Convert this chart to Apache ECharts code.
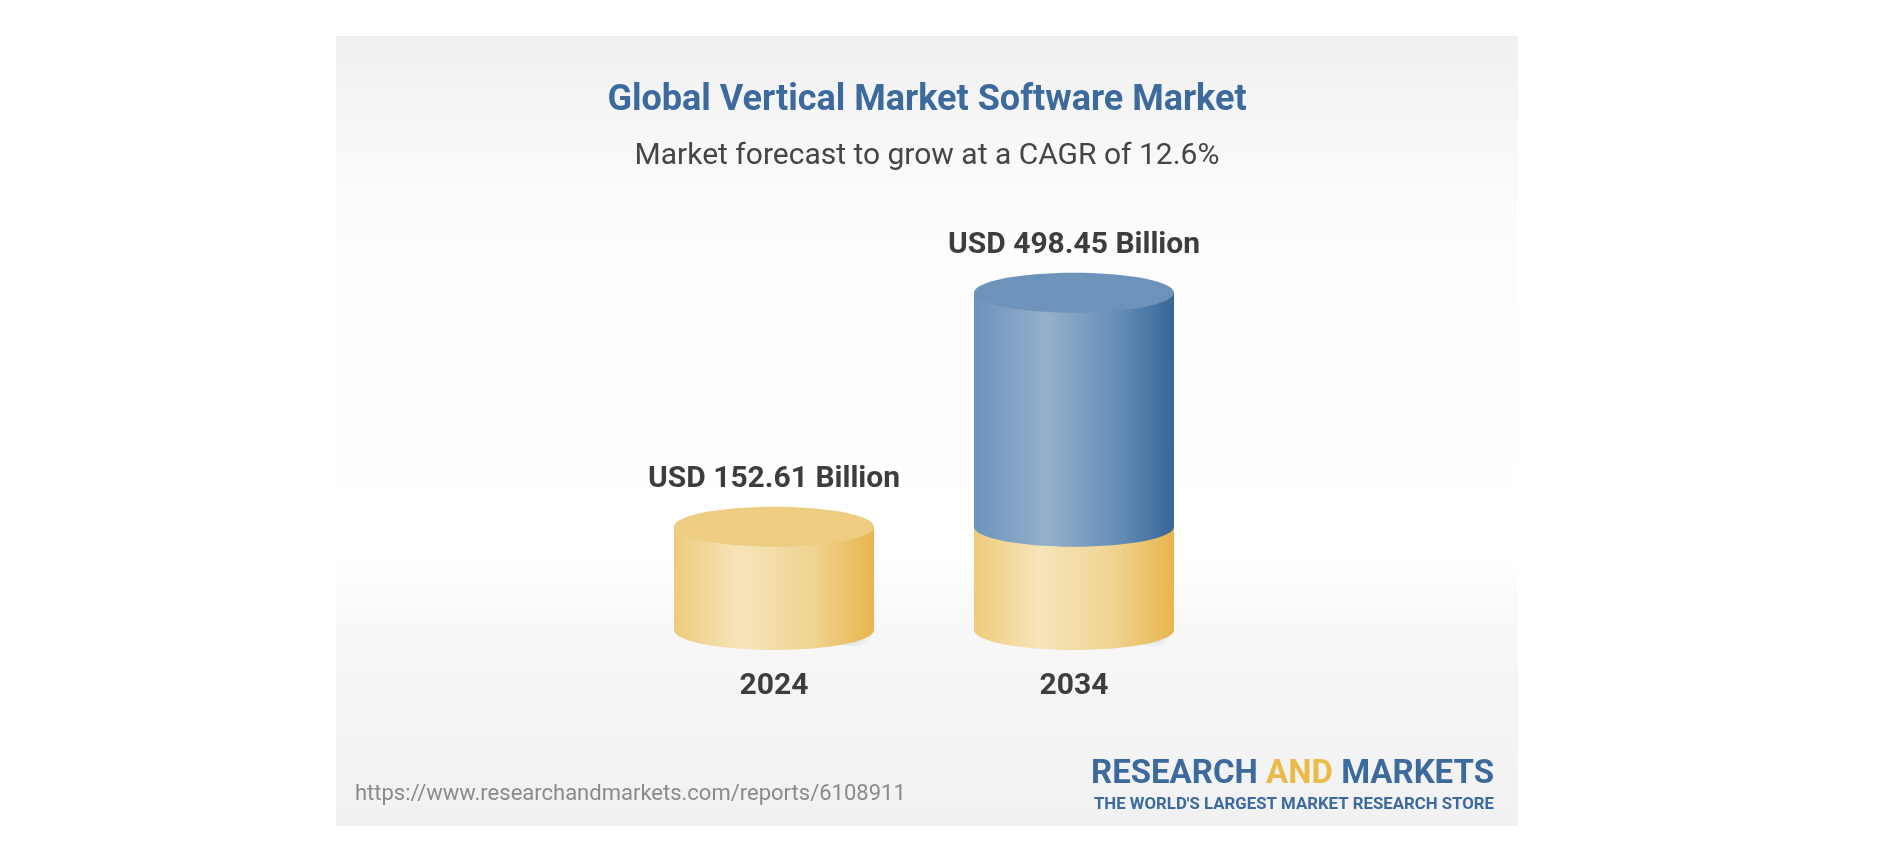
<!DOCTYPE html>
<html><head><meta charset="utf-8">
<script src="https://cdn.jsdelivr.net/npm/echarts/dist/echarts.min.js"></script>
<style>html,body{margin:0;padding:0;background:#fff}#c{width:1878px;height:856px}</style>
</head><body><div id="c"></div>
<script>
const categories = ['2024', '2034'];
const baseValues = [152.61, 152.61];
const totalValues = [152.61, 498.45];
const valueLabels = ['USD 152.61 Billion', 'USD 498.45 Billion'];
const titleText = 'Global Vertical Market Software Market';
const subtitleText = 'Market forecast to grow at a CAGR of 12.6%';
const sourceText = 'https://www.researchandmarkets.com/reports/6108911';

const FONT = 'Roboto, "Noto Sans", sans-serif';
const chart = echarts.init(document.getElementById('c'), null, {renderer: 'canvas'});

const seriesData = categories.map((c, i) => [i, baseValues[i], totalValues[i]]);

function yellowGrad() {
  return new echarts.graphic.LinearGradient(0, 0, 1, 0, [
    {offset: 0, color: '#eecb7a'},
    {offset: 0.33, color: '#f6e5bb'},
    {offset: 0.7, color: '#efd38f'},
    {offset: 1, color: '#e8b54e'}
  ]);
}
function blueGrad() {
  return new echarts.graphic.LinearGradient(0, 0, 1, 0, [
    {offset: 0, color: '#6b93bc'},
    {offset: 0.36, color: '#95b0ca'},
    {offset: 0.7, color: '#6890b9'},
    {offset: 1, color: '#386698'}
  ]);
}

function renderItem(params, api) {
  const idx = api.value(0);
  const base = api.value(1);
  const total = api.value(2);
  const p0 = api.coord([idx, 0]);
  const pb = api.coord([idx, base]);
  const pt = api.coord([idx, total]);
  const band = api.size([1, 0])[0];
  const w = band * 2 / 3;
  const rx = w / 2;
  const ry = w * 0.1;
  const cx = p0[0];
  const x = cx - rx;
  const children = [];
  // soft shadow on the floor
  children.push({
    type: 'ellipse',
    shape: {cx: cx + rx - 5, cy: p0[1] - 3, rx: 62, ry: 20},
    style: {fill: new echarts.graphic.RadialGradient(0.35, 0.5, 0.6, [
      {offset: 0, color: 'rgba(0,0,0,0.26)'},
      {offset: 0.5, color: 'rgba(0,0,0,0.10)'},
      {offset: 1, color: 'rgba(0,0,0,0)'}
    ])}
  });
  // yellow part
  children.push({type: 'ellipse', shape: {cx: cx, cy: p0[1], rx: rx, ry: ry}, style: {fill: yellowGrad()}});
  children.push({type: 'rect', shape: {x: x, y: pb[1], width: w, height: p0[1] - pb[1]}, style: {fill: yellowGrad()}});
  let topY;
  if (total > base) {
    children.push({type: 'ellipse', shape: {cx: cx, cy: pb[1], rx: rx, ry: ry}, style: {fill: blueGrad()}});
    children.push({type: 'rect', shape: {x: x, y: pt[1], width: w, height: pb[1] - pt[1]}, style: {fill: blueGrad()}});
    children.push({type: 'ellipse', shape: {cx: cx, cy: pt[1], rx: rx, ry: ry}, style: {fill: '#6d93ba'}});
    topY = pt[1];
  } else {
    children.push({type: 'ellipse', shape: {cx: cx, cy: pb[1], rx: rx, ry: ry}, style: {fill: '#eecd82'}});
    topY = pb[1];
  }
  children.push({
    type: 'text',
    style: {
      text: valueLabels[idx], x: cx, y: topY - ry - 27,
      textAlign: 'center', textVerticalAlign: 'middle',
      font: 'bold 30px ' + FONT, fill: '#3d3d3d'
    }
  });
  return {type: 'group', children: children};
}

const option = {
  backgroundColor: '#ffffff',
  animation: false,
  grid: {left: 624, width: 600, top: 224, height: 406},
  xAxis: {
    type: 'category', data: categories, boundaryGap: true,
    axisLine: {show: false}, axisTick: {show: false},
    axisLabel: {margin: 41, fontFamily: FONT, fontWeight: 'bold', fontSize: 30, color: '#3d3d3d'}
  },
  yAxis: {
    type: 'value', min: 0, max: 600, show: false,
    splitLine: {show: false}
  },
  graphic: [
    {
      type: 'rect', z: -10, silent: true,
      shape: {x: 336, y: 36, width: 1182, height: 790},
      style: {fill: new echarts.graphic.LinearGradient(0, 0, 0, 1, [
        {offset: 0, color: '#f0f0f0'},
        {offset: 0.22, color: '#fcfcfc'},
        {offset: 0.66, color: '#ffffff'},
        {offset: 0.76, color: '#f7f7f7'},
        {offset: 1, color: '#f1f1f1'}
      ])}
    },
    {
      type: 'text', z: 10,
      style: {text: titleText, x: 927, y: 101, textAlign: 'center', textVerticalAlign: 'middle',
        font: 'bold 36px ' + FONT, fill: '#3c6a9c'}
    },
    {
      type: 'text', z: 10,
      style: {text: subtitleText, x: 927, y: 156, textAlign: 'center', textVerticalAlign: 'middle',
        font: '30px ' + FONT, fill: '#454545'}
    },
    {
      type: 'text', z: 10,
      style: {text: sourceText, x: 355, y: 794, textAlign: 'left', textVerticalAlign: 'middle',
        font: '22px ' + FONT, fill: '#8a8a8a'}
    },
    {
      type: 'text', z: 10,
      style: {
        text: '{b|RESEARCH }{y|AND}{b| MARKETS}', x: 1494, y: 775,
        textAlign: 'right', textVerticalAlign: 'middle',
        rich: {
          b: {font: 'bold 33px ' + FONT, fill: '#3c6a9c', color: '#3c6a9c'},
          y: {font: 'bold 33px ' + FONT, fill: '#ebbb4a', color: '#ebbb4a'}
        }
      }
    },
    {
      type: 'text', z: 10,
      style: {text: "THE WORLD'S LARGEST MARKET RESEARCH STORE", x: 1494, y: 805,
        textAlign: 'right', textVerticalAlign: 'middle',
        font: 'bold 16.8px ' + FONT, fill: '#3c6a9c'}
    }
  ],
  series: [{
    type: 'custom',
    renderItem: renderItem,
    data: seriesData,
    encode: {x: 0, y: 2},
    clip: false
  }]
};
chart.setOption(option);
</script>
</body></html>
